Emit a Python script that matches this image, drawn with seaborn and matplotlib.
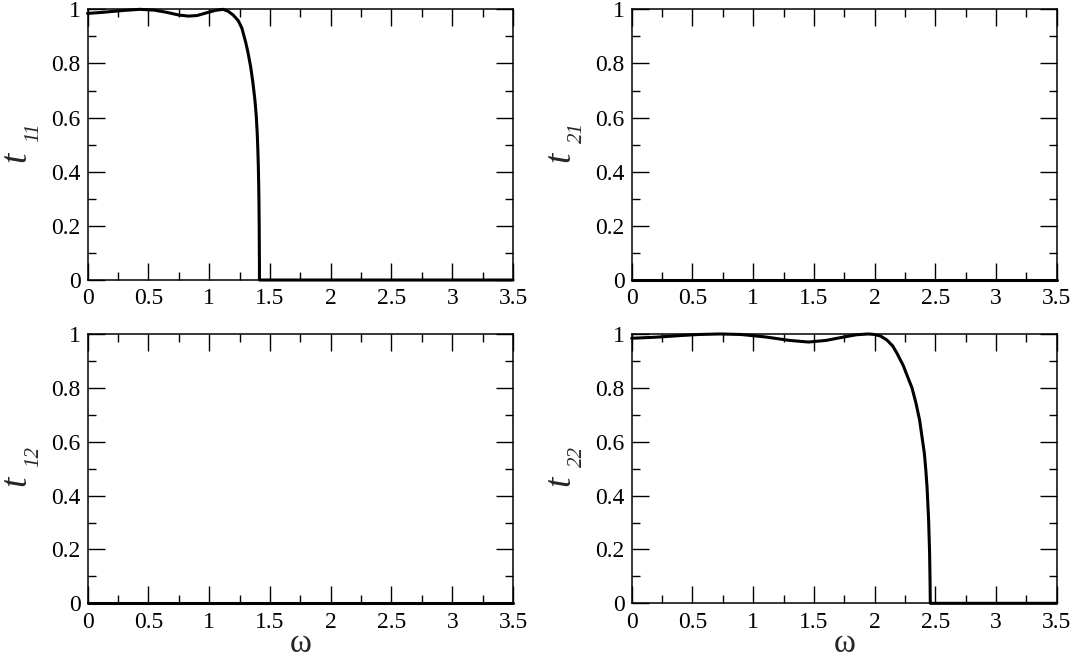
import matplotlib
matplotlib.use("Agg")
import matplotlib.pyplot as plt
import matplotlib.ticker as ticker
import seaborn as sns

# ---------------------------
# DATA
# ---------------------------
omega_11 = [0, 0.1, 0.2, 0.3, 0.43, 0.55, 0.65, 0.75, 0.83, 0.9, 0.97, 1.05, 1.114,
            1.16, 1.2, 1.24, 1.27, 1.3, 1.32, 1.342, 1.36, 1.377, 1.388, 1.396,
            1.401, 1.405, 1.408, 1.41, 1.412, 1.413, 1.414, 1.414, 3.5]
t_11 = [0.985, 0.988, 0.992, 0.996, 1.0, 0.997, 0.989, 0.979, 0.975, 0.977, 0.986,
        0.996, 1.0, 0.992, 0.978, 0.958, 0.93, 0.88, 0.84, 0.787, 0.73, 0.664,
        0.605, 0.54, 0.48, 0.417, 0.35, 0.29, 0.2, 0.12, 0.05, 0.0, 0.0]

omega_21 = [0, 3.5]
t_21 = [0.0, 0.0]

omega_12 = [0, 3.5]
t_12 = [0.0, 0.0]

omega_22 = [0, 0.2, 0.4, 0.55, 0.73, 0.9, 1.1, 1.3, 1.456, 1.6, 1.75, 1.85, 1.948,
            2.0, 2.05, 2.1, 2.15, 2.185, 2.237, 2.26, 2.308, 2.34, 2.371, 2.39,
            2.41, 2.422, 2.432, 2.445, 2.453, 2.457, 2.459, 2.459, 3.5]
t_22 = [0.984, 0.988, 0.994, 0.998, 1.0, 0.998, 0.989, 0.976, 0.970, 0.976, 0.989,
        0.997, 1.0, 0.998, 0.992, 0.978, 0.955, 0.928, 0.882, 0.855, 0.80, 0.745,
        0.68, 0.62, 0.557, 0.495, 0.433, 0.31, 0.19, 0.08, 0.0, 0.0, 0.0]

panels = [
    ("11", omega_11, t_11),
    ("21", omega_21, t_21),
    ("12", omega_12, t_12),
    ("22", omega_22, t_22),
]

# ---------------------------
# STYLE
# ---------------------------
sns.set_theme(style="ticks")
plt.rcParams["font.family"] = ["Liberation Serif", "DejaVu Serif"]
plt.rcParams["axes.linewidth"] = 1.1

fig = plt.figure(figsize=(10.74, 6.57), dpi=100)

rects = [
    [0.0815, 0.5738, 0.3962, 0.412],
    [0.5882, 0.5738, 0.3957, 0.412],
    [0.0815, 0.0817, 0.3962, 0.410],
    [0.5882, 0.0817, 0.3957, 0.410],
]

for i, (sub, w, t) in enumerate(panels):
    ax = fig.add_axes(rects[i])
    sns.lineplot(x=w, y=t, estimator=None, sort=False, color="black",
                 linewidth=2.2, ax=ax, clip_on=False)

    ax.set_xlim(0, 3.5)
    ax.set_ylim(0, 1)
    ax.xaxis.set_major_locator(ticker.MultipleLocator(0.5))
    ax.xaxis.set_minor_locator(ticker.MultipleLocator(0.25))
    ax.yaxis.set_major_locator(ticker.MultipleLocator(0.2))
    ax.yaxis.set_minor_locator(ticker.MultipleLocator(0.1))
    fmt = ticker.FuncFormatter(lambda v, pos: f"{v:g}")
    ax.xaxis.set_major_formatter(fmt)
    ax.yaxis.set_major_formatter(fmt)

    ax.tick_params(which="both", direction="in", top=True, right=True,
                   colors="black", width=1.0, labelsize=17)
    ax.tick_params(which="major", length=12)
    ax.tick_params(which="minor", length=6)
    ax.tick_params(axis="x", pad=6)
    ax.tick_params(axis="y", pad=5)
    for s in ax.spines.values():
        s.set_color("black")

    # y label: italic t with italic subscript
    ax.text(-0.168, 0.454, "t", transform=ax.transAxes, rotation=90,
            ha="center", va="center", fontsize=27, style="italic")
    ax.text(-0.127, 0.545, sub, transform=ax.transAxes,
            rotation=90, ha="center", va="center", fontsize=15, style="italic")

    if i >= 2:
        ax.set_xlabel("ω", fontsize=24, labelpad=-3)

fig.savefig("out.png", dpi=100)
